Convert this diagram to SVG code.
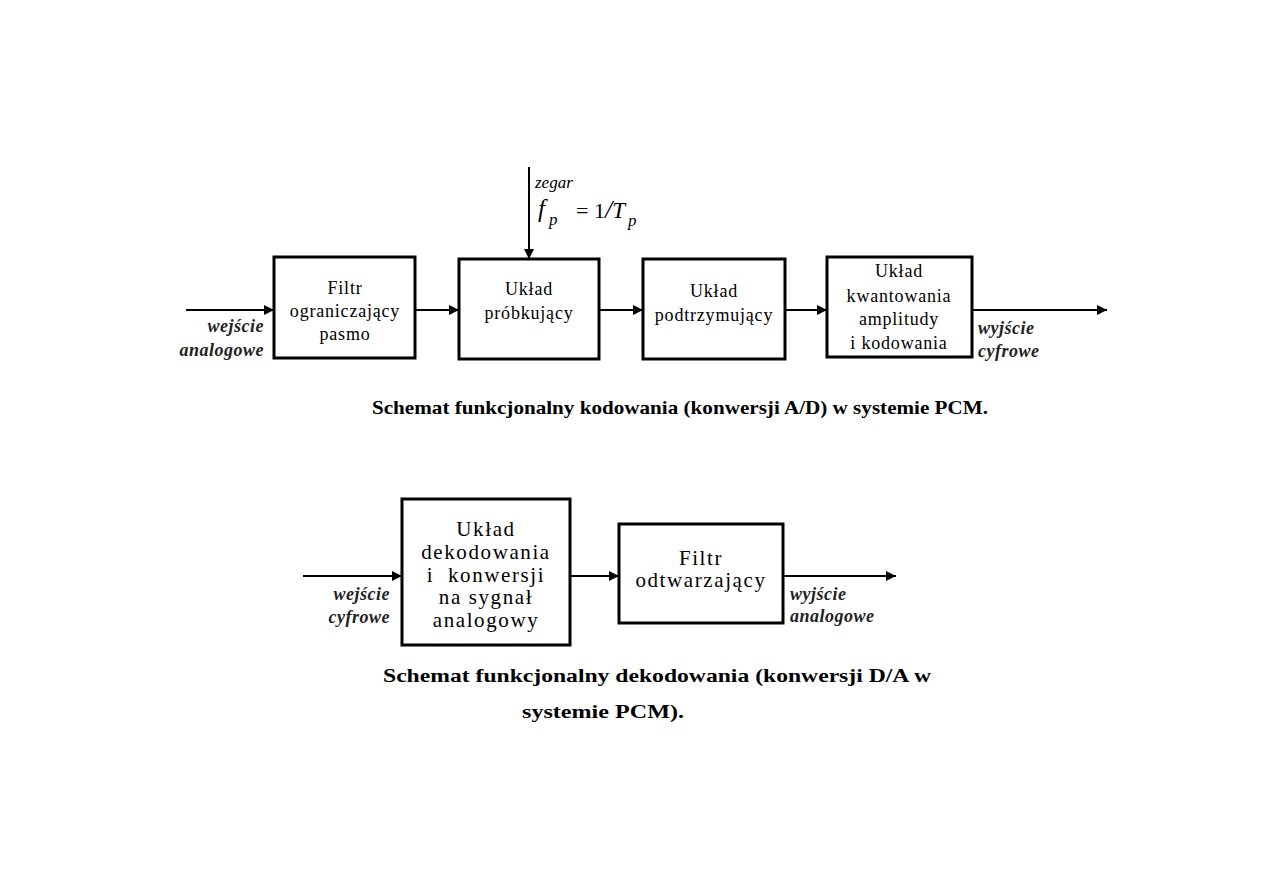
<svg xmlns="http://www.w3.org/2000/svg" width="1263" height="893" viewBox="0 0 1263 893">
<style>
.box{fill:#fff;stroke:#000;stroke-width:3}
.bt{font-family:"Liberation Serif",serif;font-size:18px;text-anchor:middle;fill:#000;letter-spacing:0.8px}
.bt2{font-family:"Liberation Serif",serif;font-size:21px;text-anchor:middle;fill:#000;letter-spacing:1.6px}
.lab{font-family:"Liberation Serif",serif;font-size:18px;font-style:italic;font-weight:bold;fill:#222;letter-spacing:0.5px}
.cap{font-family:"Liberation Serif",serif;font-size:19px;font-weight:bold;fill:#000}
.ln{stroke:#000;stroke-width:2;fill:none;marker-end:url(#ah)}
.m{font-family:"Liberation Serif",serif;fill:#000}
</style>
<defs>
<marker id="ah" viewBox="0 0 10 10" refX="10" refY="5" markerWidth="5" markerHeight="5" orient="auto" markerUnits="strokeWidth">
<path d="M0,0 L10,5 L0,10 z" fill="#000"/>
</marker>
</defs>
<rect width="1263" height="893" fill="#fff"/>
<g id="connectors">
<line class="ln" x1="186" y1="310" x2="274" y2="310"/>
<line class="ln" x1="415" y1="310" x2="459" y2="310"/>
<line class="ln" x1="599" y1="310" x2="643" y2="310"/>
<line class="ln" x1="785" y1="310" x2="827" y2="310"/>
<line class="ln" x1="972" y1="310" x2="1107" y2="310"/>
<line class="ln" x1="529" y1="167" x2="529" y2="259"/>
<line class="ln" x1="303" y1="576" x2="402" y2="576"/>
<line class="ln" x1="570" y1="576" x2="619" y2="576"/>
<line class="ln" x1="783" y1="576" x2="896" y2="576"/>
</g>
<g id="clock">
<text class="m" x="535" y="188" font-size="17" font-style="italic">zegar</text>
<text class="m" x="538" y="217" font-size="25" font-style="italic">f</text>
<text class="m" x="549" y="225" font-size="17" font-style="italic">p</text>
<text class="m" x="576" y="218" font-size="22">= 1<tspan font-style="italic" font-size="26">/</tspan><tspan font-style="italic" font-size="23">T</tspan></text>
<text class="m" x="628" y="226" font-size="17" font-style="italic">p</text>
</g>
<g id="in-ad">
<text class="lab" x="264" y="332" text-anchor="end">wejście</text>
<text class="lab" x="264" y="356" text-anchor="end">analogowe</text>
</g>
<g id="box-filtr">
<rect class="box" x="274" y="257" width="141" height="101"/>
<text class="bt" x="345" y="294">Filtr</text>
<text class="bt" x="345" y="317">ograniczający</text>
<text class="bt" x="345" y="340">pasmo</text>
</g>
<g id="box-probkujacy">
<rect class="box" x="459" y="259" width="140" height="100"/>
<text class="bt" x="529" y="295">Układ</text>
<text class="bt" x="529" y="319">próbkujący</text>
</g>
<g id="box-podtrzymujacy">
<rect class="box" x="643" y="259" width="142" height="100"/>
<text class="bt" x="714" y="297">Układ</text>
<text class="bt" x="714" y="321">podtrzymujący</text>
</g>
<g id="box-kwantowania">
<rect class="box" x="827" y="257" width="145" height="100"/>
<text class="bt" x="899" y="277">Układ</text>
<text class="bt" x="899" y="302">kwantowania</text>
<text class="bt" x="899" y="325">amplitudy</text>
<text class="bt" x="899" y="349">i kodowania</text>
</g>
<g id="out-ad">
<text class="lab" x="978" y="334">wyjście</text>
<text class="lab" x="978" y="357">cyfrowe</text>
</g>
<text class="cap" x="372" y="414" textLength="616" lengthAdjust="spacingAndGlyphs">Schemat funkcjonalny kodowania (konwersji A/D) w systemie PCM.</text>
<g id="in-da">
<text class="lab" x="390" y="600" text-anchor="end">wejście</text>
<text class="lab" x="390" y="623" text-anchor="end">cyfrowe</text>
</g>
<g id="box-dekodowania">
<rect class="box" x="402" y="499" width="168" height="146"/>
<text class="bt2" x="486" y="536">Układ</text>
<text class="bt2" x="486" y="559">dekodowania</text>
<text class="bt2" x="486" y="582" xml:space="preserve">i  konwersji</text>
<text class="bt2" x="486" y="604">na sygnał</text>
<text class="bt2" x="486" y="627">analogowy</text>
</g>
<g id="box-odtwarzajacy">
<rect class="box" x="619" y="524" width="164" height="99"/>
<text class="bt2" x="701" y="565">Filtr</text>
<text class="bt2" x="701" y="587">odtwarzający</text>
</g>
<g id="out-da">
<text class="lab" x="790" y="600">wyjście</text>
<text class="lab" x="790" y="622">analogowe</text>
</g>
<text class="cap" x="383" y="682" textLength="548" lengthAdjust="spacingAndGlyphs">Schemat funkcjonalny dekodowania (konwersji D/A w</text>
<text class="cap" x="522" y="718" textLength="162" lengthAdjust="spacingAndGlyphs">systemie PCM).</text>
</svg>
